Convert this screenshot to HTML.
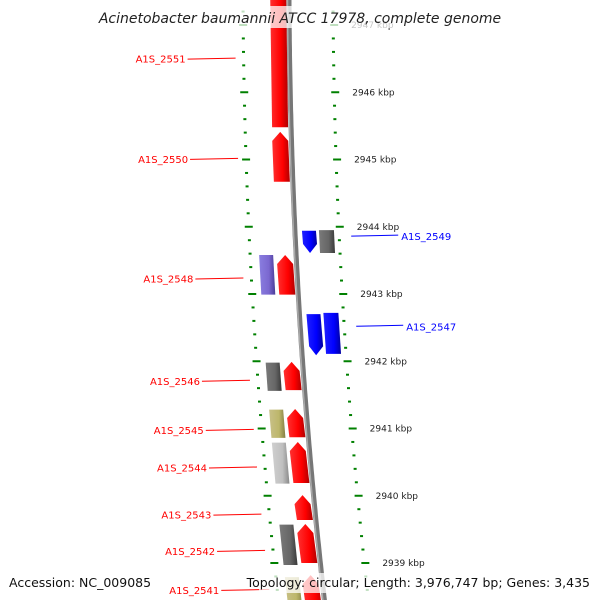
<!DOCTYPE html>
<html><head><meta charset="utf-8"><style>
html,body{margin:0;padding:0;background:#fff;}
svg{display:block;font-family:"DejaVu Sans","Liberation Sans",sans-serif;}
</style></head><body>
<svg id="map" width="600" height="600" viewBox="0 0 600 600" xmlns="http://www.w3.org/2000/svg">
<defs>
<linearGradient id="gRed" x1="0" x2="1"><stop offset="0" stop-color="#ff3030"/><stop offset="0.6" stop-color="#ff0000"/><stop offset="1" stop-color="#b00000"/></linearGradient>
<linearGradient id="gBlue" x1="0" x2="1"><stop offset="0" stop-color="#2020ff"/><stop offset="0.6" stop-color="#0000ff"/><stop offset="1" stop-color="#0000a0"/></linearGradient>
<linearGradient id="gGrey" x1="0" x2="1"><stop offset="0" stop-color="#7a7a7a"/><stop offset="0.6" stop-color="#666"/><stop offset="1" stop-color="#3a3a3a"/></linearGradient>
<linearGradient id="gLGrey" x1="0" x2="1"><stop offset="0" stop-color="#cfcfcf"/><stop offset="0.6" stop-color="#c0c0c0"/><stop offset="1" stop-color="#888"/></linearGradient>
<linearGradient id="gPurple" x1="0" x2="1"><stop offset="0" stop-color="#8a7ee0"/><stop offset="0.6" stop-color="#7b68d0"/><stop offset="1" stop-color="#4a3c98"/></linearGradient>
<linearGradient id="gOlive" x1="0" x2="1"><stop offset="0" stop-color="#c8c088"/><stop offset="0.6" stop-color="#bdb76b"/><stop offset="1" stop-color="#857f44"/></linearGradient>
<linearGradient id="gBack" x1="0" x2="1"><stop offset="0" stop-color="#aaa"/><stop offset="0.5" stop-color="#777"/><stop offset="1" stop-color="#555"/></linearGradient>
</defs>
<g id="layer"></g>
</svg>
<script>
// data (kbp)
const tickKbp = [2947.4,2947.2,2947,2946.8,2946.6,2946.4,2946.2,2946,2945.8,2945.6,2945.4,2945.2,2945,2944.8,2944.6,2944.4,2944.2,2944,2943.8,2943.6,2943.4,2943.2,2943,2942.8,2942.6,2942.4,2942.2,2942,2941.8,2941.6,2941.4,2941.2,2941,2940.8,2940.6,2940.4,2940.2,2940,2939.8,2939.6,2939.4,2939.2,2939,2938.8,2938.6,2938.4];
const majorLabels = [2947,2946,2945,2944,2943,2942,2941,2940,2939];
// genes: [startKbp(top), endKbp(bottom), track, color, strand]
const geneStart = [2947.67,2945.41,2943.58,2943.58,2943.94,2943.95,2942.70,2942.72,2941.99,2941.98,2941.29,2941.28,2940.80,2940.79,2940.01,2939.58,2939.57,2938.82,2938.79];
const geneEnd   = [2945.48,2944.67,2942.99,2942.99,2943.61,2943.61,2942.09,2942.11,2941.57,2941.56,2940.87,2940.86,2940.19,2940.18,2939.64,2939.00,2938.97,2938.15,2938.15];
const geneTrack = ['fwd','fwd','fwd','fwd2','rev','rev2','rev','rev2','fwd','fwd2','fwd','fwd2','fwd','fwd2','fwd','fwd','fwd2','fwd','fwd2'];
const geneColor = ['gRed','gRed','gRed','gPurple','gBlue','gGrey','gBlue','gBlue','gRed','gGrey','gRed','gOlive','gRed','gLGrey','gRed','gRed','gGrey','gRed','gOlive'];
const geneArrow = [0,1,1,0,1,0,1,0,1,0,1,0,1,0,1,1,0,1,0];
const labelNames = ['A1S_2551','A1S_2550','A1S_2548','A1S_2546','A1S_2545','A1S_2544','A1S_2543','A1S_2542','A1S_2541','A1S_2549','A1S_2547'];
const labelKbp = [2946.5,2945.01,2943.23,2941.71,2940.98,2940.42,2939.72,2939.18,2938.6,2943.86,2942.52];
const labelSide = ['L','L','L','L','L','L','L','L','L','R','R'];

const NS="http://www.w3.org/2000/svg";
const layer=document.getElementById('layer');
function yOf(k){return 25+(2947-k)*67.25;}
function bx(y){return 289+0.005*y+0.00009*y*y;}
function mk(t,a,p){const e=document.createElementNS(NS,t);for(const k in a)e.setAttribute(k,a[k]);(p||layer).appendChild(e);return e;}

// backbone
let d='';for(let y=-5;y<=605;y+=5){d+=(y===-5?'M':'L')+bx(y).toFixed(1)+' '+y;}
const bb=mk('path',{d:d,stroke:'#777',fill:'none','stroke-width':5});


mk('path',{d:d,stroke:'#aaa',fill:'none','stroke-width':1.5,transform:'translate(-1.5,0)'});

// ticks
tickKbp.forEach(k=>{
  const y=yOf(k), b=bx(y);
  const major=Math.abs(k-Math.round(k))<0.01;
  const len=major?8:3, w=major?2:2;
  const l=mk('line',{x1:b-46-len/2,x2:b-46+len/2,y1:y,y2:y,stroke:'#008000','stroke-width':w});
  
  
  const r=mk('line',{x1:b+44-len/2+(major?1:0),x2:b+44+len/2+(major?1:0),y1:y,y2:y,stroke:'#008000','stroke-width':w});
  
  
});
majorLabels.forEach(k=>{
  const y=yOf(k), b=bx(y);
  const t=mk('text',{x:b+62,y:y+3,'font-size':9,fill:'#222'});
  t.textContent=k+' kbp';
  
  
});

// genes
const trackOff={fwd:[-19,-3],fwd2:[-37,-23],rev:[7,21],rev2:[24,39]};
geneStart.forEach((s,i)=>{
  const y1=yOf(s), y2=yOf(geneEnd[i]);
  const o=trackOff[geneTrack[i]];
  const bt=bx(y1), bb2=bx(y2);
  const xl1=bt+o[0], xr1=bt+o[1], xl2=bb2+o[0], xr2=bb2+o[1];
  let p;
  if(geneArrow[i] && geneTrack[i].startsWith('fwd')){
    const h=9;const mx=(xl1+xr1)/2;
    p=`M${mx} ${y1} L${xr1} ${y1+h} L${xr2} ${y2} L${xl2} ${y2} L${xl1} ${y1+h} Z`;
  } else if(geneArrow[i]){
    const h=9;const mx=(xl2+xr2)/2;
    p=`M${xl1} ${y1} L${xr1} ${y1} L${xr2} ${y2-h} L${mx} ${y2} L${xl2} ${y2-h} Z`;
  } else {
    p=`M${xl1} ${y1} L${xr1} ${y1} L${xr2} ${y2} L${xl2} ${y2} Z`;
  }
  const g=mk('path',{d:p,fill:'url(#'+geneColor[i]+')'});
  
  
});

// labels
labelNames.forEach((n,i)=>{
  const y=yOf(labelKbp[i]), b=bx(y);
  const red=labelSide[i]==='L';
  const col=red?'#ff0000':'#0000ff';
  let x1,x2,tx,anchor;
  if(red){x2=b-54;x1=x2-48;tx=x1-2;anchor='end';}
  else{x1=b+56;x2=x1+47;tx=x2+3;anchor='start';}
  const ln=mk('line',{x1:x1,x2:x2,y1:y+(red?0.5:0),y2:y-(red?0.5:1),stroke:col,'stroke-width':1});
  
  
  const t=mk('text',{x:tx,y:y+4,'font-size':10,fill:col,'text-anchor':anchor});
  t.textContent=n;
  
  
});

// overlays
const tb=mk('rect',{x:98,y:6,width:404,height:22,fill:'#fff','fill-opacity':0.75});


const tt=mk('text',{x:300,y:23,'font-size':14,'font-style':'italic','text-anchor':'middle',fill:'#222'});
tt.textContent='Acinetobacter baumannii ATCC 17978, complete genome';


const ab=mk('text',{x:9,y:587,'font-size':12.5,fill:'#111'});
ab.textContent='Accession: NC_009085';


const bbnd=mk('rect',{x:259,y:573,width:336,height:20,fill:'#fff','fill-opacity':0.75});


const tp=mk('text',{x:590,y:587,'font-size':12.5,fill:'#111','text-anchor':'end'});
tp.textContent='Topology: circular; Length: 3,976,747 bp; Genes: 3,435';


</script>
</body></html>
